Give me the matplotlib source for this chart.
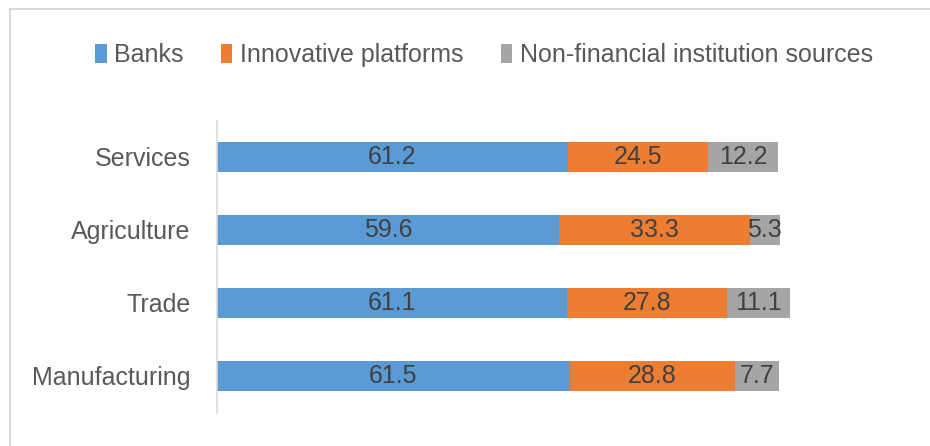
import matplotlib.pyplot as plt
from matplotlib.lines import Line2D
import numpy as np

# Data
sectors = ['Services', 'Agriculture', 'Trade', 'Manufacturing']
banks = [61.2, 59.6, 61.1, 61.5]
platforms = [24.5, 33.3, 27.8, 28.8]
nonfin = [12.2, 5.3, 11.1, 7.7]
series_names = ['Banks', 'Innovative platforms', 'Non-financial institution sources']
colors = ['#5B9BD5', '#ED7D31', '#A5A5A5']

plt.rcParams['font.family'] = ['Liberation Sans', 'DejaVu Sans']

fig = plt.figure(figsize=(9.3, 4.46), dpi=100)
ax = fig.add_axes([217/930, 1-412.5/446, 688/930, (412.5-120.5)/446])

y = np.arange(len(sectors))
left = np.zeros(len(sectors))
for vals, name, c in zip([banks, platforms, nonfin], series_names, colors):
    bars = ax.barh(y, vals, left=left, height=0.41, color=c, label=name)
    ax.bar_label(bars, labels=['%.1f' % v for v in vals], label_type='center',
                 fontsize=18, color='#404040')
    left = left + np.array(vals)

ax.set_yticks(y)
ax.set_yticklabels(sectors, fontsize=18, color='#595959')
ax.set_ylim(len(sectors)-0.5, -0.5)
ax.set_xlim(0, 120)
ax.set_xticks([])
ax.tick_params(axis='y', length=0, pad=19)
for s in ['top', 'right', 'bottom']:
    ax.spines[s].set_visible(False)
ax.spines['left'].set_color('#D9D9D9')
ax.spines['left'].set_linewidth(1.2)

leg = fig.legend(loc='center', bbox_to_anchor=(484/930, 1-55/446), ncol=3, frameon=False,
                 fontsize=18, handlelength=0.45, handleheight=0.8, handletextpad=0.3,
                 columnspacing=1.5)
for t in leg.get_texts():
    t.set_color('#595959')

# chart border (only top and left visible)
fig.add_artist(Line2D([9.5/930, 9.5/930], [0, 1-9/446], transform=fig.transFigure,
                      color='#D9D9D9', lw=1.5))
fig.add_artist(Line2D([9.5/930, 1], [1-9/446, 1-9/446], transform=fig.transFigure,
                      color='#D9D9D9', lw=1.5))

plt.savefig('out.png', dpi=100)
